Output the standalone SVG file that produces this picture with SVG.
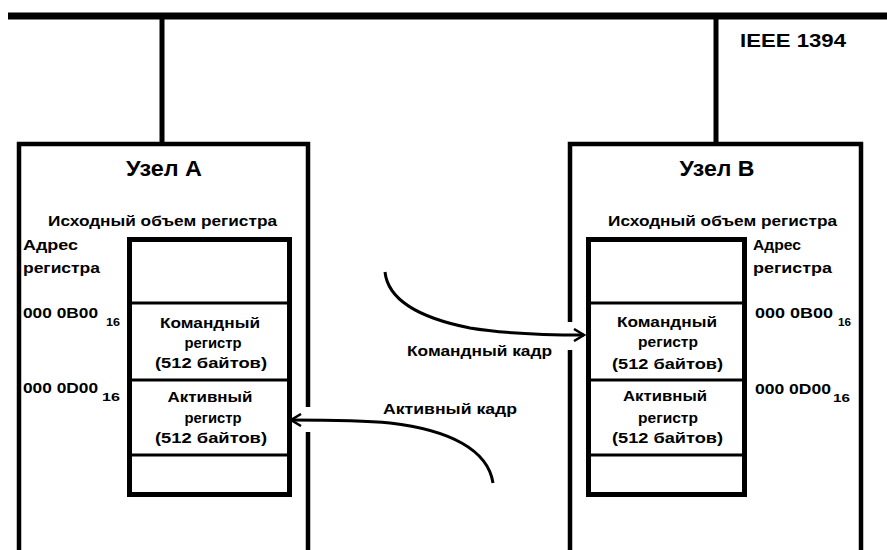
<svg xmlns="http://www.w3.org/2000/svg" width="887" height="550" viewBox="0 0 887 550">
<defs>
<style>
.t{font-family:"Liberation Sans",Arial,sans-serif;font-weight:bold;fill:#000;}
.c{text-anchor:middle;}
.ln{fill:none;stroke:#000;stroke-linecap:butt;}
.box{fill:#fff;stroke:#000;stroke-width:5;}
.div{stroke:#000;stroke-width:3;}
</style>
<marker id="ah" viewBox="0 0 14 14" refX="12" refY="7" markerWidth="14" markerHeight="14" markerUnits="userSpaceOnUse" orient="auto">
<path d="M2,1 L12,7 L2,13" fill="none" stroke="#000" stroke-width="2.5"/>
</marker>
</defs>
<rect width="887" height="550" fill="#fff"/>

<g id="bus">
<line class="ln" x1="8" y1="16" x2="887" y2="16" stroke-width="7"/>
<text class="t" x="740" y="47" font-size="19" textLength="106" lengthAdjust="spacingAndGlyphs">IEEE 1394</text>
</g>

<g id="nodeA">
<path class="ln" d="M19,560 V144 H308 V407 M308,432 V560" stroke-width="4.5"/>
<text class="t c" x="164" y="176" font-size="22" textLength="76" lengthAdjust="spacingAndGlyphs">Узел А</text>
<text class="t c" x="162.5" y="226" font-size="15" textLength="229" lengthAdjust="spacingAndGlyphs">Исходный объем регистра</text>
<text class="t" x="23" y="250" font-size="14" textLength="55" lengthAdjust="spacingAndGlyphs">Адрес</text>
<text class="t" x="23" y="273" font-size="14" textLength="77" lengthAdjust="spacingAndGlyphs">регистра</text>
<text class="t" x="23" y="318" font-size="14" textLength="75" lengthAdjust="spacingAndGlyphs">000 0B00</text>
<text class="t" x="106" y="326" font-size="10" textLength="14" lengthAdjust="spacingAndGlyphs">16</text>
<text class="t" x="23" y="393" font-size="14" textLength="75" lengthAdjust="spacingAndGlyphs">000 0D00</text>
<text class="t" x="102" y="401" font-size="11" textLength="18" lengthAdjust="spacingAndGlyphs">16</text>
<rect class="box" x="129.5" y="239.5" width="160" height="255"/>
<line class="div" x1="129.5" y1="303" x2="289.5" y2="303"/>
<line class="div" x1="129.5" y1="380" x2="289.5" y2="380"/>
<line class="div" x1="129.5" y1="455" x2="289.5" y2="455"/>
<text class="t c" x="210" y="328" font-size="15" textLength="100" lengthAdjust="spacingAndGlyphs">Командный</text>
<text class="t c" x="213" y="348" font-size="15" textLength="57" lengthAdjust="spacingAndGlyphs">регистр</text>
<text class="t c" x="211" y="368" font-size="15" textLength="112" lengthAdjust="spacingAndGlyphs">(512 байтов)</text>
<text class="t c" x="210" y="402" font-size="15" textLength="85" lengthAdjust="spacingAndGlyphs">Активный</text>
<text class="t c" x="213" y="423" font-size="15" textLength="57" lengthAdjust="spacingAndGlyphs">регистр</text>
<text class="t c" x="211" y="443" font-size="15" textLength="112" lengthAdjust="spacingAndGlyphs">(512 байтов)</text>
</g>

<g id="nodeB">
<path class="ln" d="M570,322 V144 H861 V560 M570,350 V560" stroke-width="4.5"/>
<text class="t c" x="717" y="176" font-size="22" textLength="75" lengthAdjust="spacingAndGlyphs">Узел В</text>
<text class="t c" x="722.5" y="226" font-size="15" textLength="229" lengthAdjust="spacingAndGlyphs">Исходный объем регистра</text>
<text class="t" x="753" y="250" font-size="14" textLength="48" lengthAdjust="spacingAndGlyphs">Адрес</text>
<text class="t" x="753" y="273" font-size="14" textLength="79" lengthAdjust="spacingAndGlyphs">регистра</text>
<text class="t" x="755" y="318" font-size="14" textLength="78" lengthAdjust="spacingAndGlyphs">000 0B00</text>
<text class="t" x="838" y="326" font-size="10" textLength="13" lengthAdjust="spacingAndGlyphs">16</text>
<text class="t" x="755" y="394" font-size="14" textLength="76" lengthAdjust="spacingAndGlyphs">000 0D00</text>
<text class="t" x="833" y="402" font-size="11" textLength="17" lengthAdjust="spacingAndGlyphs">16</text>
<rect class="box" x="588.5" y="239.5" width="156" height="255"/>
<line class="div" x1="588.5" y1="303" x2="744.5" y2="303"/>
<line class="div" x1="588.5" y1="380" x2="744.5" y2="380"/>
<line class="div" x1="588.5" y1="455" x2="744.5" y2="455"/>
<text class="t c" x="667" y="327" font-size="15" textLength="100" lengthAdjust="spacingAndGlyphs">Командный</text>
<text class="t c" x="668" y="347" font-size="15" textLength="60" lengthAdjust="spacingAndGlyphs">регистр</text>
<text class="t c" x="667.5" y="369" font-size="15" textLength="111" lengthAdjust="spacingAndGlyphs">(512 байтов)</text>
<text class="t c" x="665" y="401" font-size="15" textLength="84" lengthAdjust="spacingAndGlyphs">Активный</text>
<text class="t c" x="668" y="423" font-size="15" textLength="60" lengthAdjust="spacingAndGlyphs">регистр</text>
<text class="t c" x="667.5" y="443" font-size="15" textLength="111" lengthAdjust="spacingAndGlyphs">(512 байтов)</text>
</g>

<g id="connectors">
<line class="ln" x1="162" y1="16" x2="162" y2="144" stroke-width="5"/>
<line class="ln" x1="716" y1="16" x2="716" y2="144" stroke-width="5"/>
<path class="ln" d="M385,272 C388,300 420,318 470,328 C500,333 540,335 584,335" stroke-width="3" marker-end="url(#ah)"/>
<text class="t" x="407" y="356" font-size="14" textLength="145" lengthAdjust="spacingAndGlyphs">Командный кадр</text>
<path class="ln" d="M493,483 C488,450 450,430 390,423 C360,420 330,420 291,420" stroke-width="3" marker-end="url(#ah)"/>
<text class="t" x="383" y="414" font-size="14" textLength="134" lengthAdjust="spacingAndGlyphs">Активный кадр</text>
</g>
</svg>
